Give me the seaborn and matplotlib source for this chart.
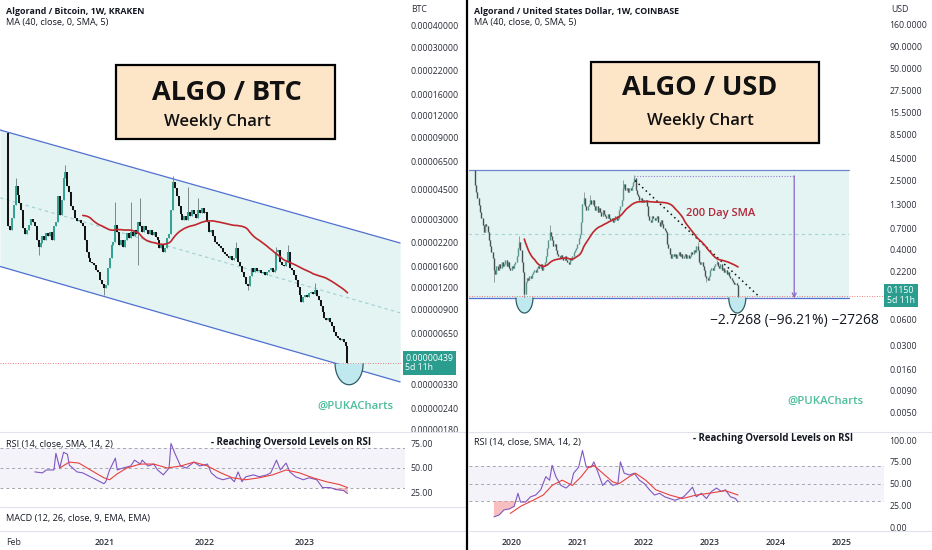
import numpy as np
import pandas as pd
import matplotlib
matplotlib.use('Agg')
import matplotlib.pyplot as plt
import matplotlib.dates as mdates
from matplotlib.ticker import FixedLocator, FixedFormatter, FormatStrFormatter, NullLocator
from matplotlib.patches import Rectangle, Polygon
from matplotlib.lines import Line2D
from matplotlib.transforms import IdentityTransform, blended_transform_factory
import seaborn as sns

# ---------------- data ----------------
# ALGO / BTC weekly closes, in 1e-6 BTC
btc_start = '2020-01-13'
btc_open0 = 95.0
btc_close = [
    27.5, 26.1, 30.6, 36.5, 47.0, 41.7, 37.5, 34.1, 26.8, 24.7,
    26.1, 27.9, 30.2, 29.0, 27.5, 22.8, 20.8, 21.9, 24.1, 22.8,
    25.1, 24.1, 25.4, 22.8, 27.5, 29.0, 41.1, 31.9, 39.0, 52.4,
    56.7, 47.0, 43.4, 36.0, 34.1, 30.6, 29.4, 29.8, 28.6, 27.5,
    22.8, 19.5, 18.0, 17.0, 16.8, 16.3, 15.3, 14.9, 13.4, 12.7,
    12.0, 12.5, 15.7, 18.0, 21.4, 22.2, 27.9, 25.4, 21.4, 22.8,
    20.8, 22.8, 25.1, 23.5, 25.4, 24.1, 26.1, 24.7, 29.0, 27.5,
    25.4, 27.5, 26.1, 24.7, 26.1, 24.4, 25.4, 23.8, 22.8, 20.5,
    21.7, 19.5, 20.5, 23.5, 24.7, 34.1, 49.6, 45.7, 41.1, 36.0,
    32.3, 29.8, 31.5, 29.8, 33.2, 31.5, 34.1, 32.3, 30.6, 34.1,
    32.8, 35.0, 32.8, 33.2, 29.0, 25.4, 26.1, 24.1, 22.2, 21.7,
    21.1, 20.5, 19.5, 19.0, 18.5, 18.0, 18.5, 17.5, 18.0, 20.5,
    17.0, 16.1, 14.9, 13.9, 12.7, 12.3, 14.1, 15.7, 14.9, 15.7,
    15.1, 15.3, 14.7, 14.9, 14.3, 14.9, 15.3, 15.7, 14.9, 15.3,
    19.5, 20.0, 17.0, 16.3, 16.1, 17.0, 19.5, 15.7, 15.3, 14.3,
    13.4, 12.2, 10.9, 9.94, 10.6, 10.9, 10.6, 11.2, 11.4, 11.1,
    11.7, 10.8, 10.2, 9.43, 8.70, 8.03, 7.82, 8.03, 7.61, 7.21,
    6.66, 6.31, 6.15, 5.98, 6.06, 5.82, 5.52, 4.39,
]
btc_hi = {4: 52.4, 30: 62.3, 56: 38.0, 64: 38.0, 69: 40.1, 86: 53.8, 94: 46.4,
          99: 40.1, 119: 22.2, 140: 20.8, 146: 21.4, 160: 12.9}
btc_lo = {16: 18.7, 50: 10.9, 68: 16.3, 125: 11.7, 177: 3.88}

btc_rsi_wk = [14, 18, 20, 24, 25, 27, 29, 31, 32, 36, 39, 43, 46, 50, 51, 53, 56, 57, 60, 64,
              66, 69, 70, 73, 76, 78, 81, 84, 85, 87, 90, 93, 97, 100, 104, 106, 109, 112, 116, 118,
              120, 122, 124, 128, 131, 135, 137, 140, 142, 145, 147, 150, 154, 157, 161, 164, 168, 171, 175, 177]
btc_rsi = [46, 45, 48, 48, 65, 50, 66, 64, 53, 46, 45, 41, 38, 34, 36, 48, 60, 48, 50, 52,
           58, 54, 58, 52, 54, 48, 43, 50, 75, 65, 52, 50, 56, 52, 54, 45, 40, 38, 40, 36,
           46, 36, 41, 43, 41, 43, 45, 58, 48, 55, 46, 41, 38, 40, 38, 30, 30, 28, 27, 24]
btc_rsisma_wk = [27, 32, 37, 43, 50, 53, 57, 62, 69, 76, 83, 90, 97, 104, 111, 117, 124, 131,
                 138, 145, 152, 159, 166, 173, 177]
btc_rsisma = [50, 56, 55, 48, 40, 38, 44, 50, 54, 54, 50, 52, 56, 52, 45, 40, 38, 40,
              43, 48, 45, 40, 36, 33, 30]

btc_chan_dates = ['2019-12-15', '2023-12-14']
btc_chan_top = [99.4, 21.9]
btc_chan_mid = [40.1, 8.6]
btc_chan_bot = [16.0, 3.41]
btc_cup = ('2023-06-11', 4.35)

btc_yticks = [4e-4, 3e-4, 2.2e-4, 1.6e-4, 1.2e-4, 9e-5, 6.5e-5, 4.5e-5, 3e-5, 2.2e-5,
              1.6e-5, 1.2e-5, 9e-6, 6.5e-6, 3.3e-6, 2.4e-6, 1.8e-6]
btc_xticks = ['2020-02-01', '2021-01-01', '2022-01-01', '2023-01-01']
btc_xlabels = ['Feb', '2021', '2022', '2023']

# ALGO / USD weekly closes
usd_start = '2019-06-10'
usd_open0 = 3.28
usd_close = [
    2.22, 1.84, 1.57, 1.30, 1.08, 0.917, 0.760, 0.630, 0.780, 0.740,
    0.630, 0.509, 0.433, 0.370, 0.315, 0.228, 0.205, 0.254, 0.228, 0.268,
    0.241, 0.283, 0.254, 0.268, 0.298, 0.254, 0.283, 0.241, 0.228, 0.254,
    0.241, 0.268, 0.283, 0.332, 0.410, 0.483, 0.390, 0.283, 0.216, 0.120,
    0.166, 0.184, 0.175, 0.195, 0.184, 0.205, 0.216, 0.228, 0.216, 0.241,
    0.254, 0.241, 0.268, 0.228, 0.254, 0.283, 0.332, 0.410, 0.509, 0.630,
    0.567, 0.509, 0.433, 0.457, 0.390, 0.350, 0.332, 0.315, 0.341, 0.315,
    0.298, 0.332, 0.298, 0.283, 0.268, 0.315, 0.298, 0.332, 0.370, 0.390,
    0.410, 0.457, 0.537, 0.597, 0.824, 1.33, 1.57, 1.27, 1.135, 1.27,
    1.33, 1.48, 1.33, 1.48, 1.27, 1.135, 1.27, 1.08, 1.20, 1.08,
    0.967, 1.135, 1.02, 0.967, 0.917, 1.02, 0.917, 0.869, 0.917, 0.824,
    0.869, 0.967, 0.869, 0.917, 1.135, 1.27, 1.48, 2.05, 2.28, 1.94,
    2.05, 1.84, 2.05, 1.94, 2.16, 2.41, 2.68, 1.94, 1.75, 1.66,
    1.48, 1.57, 1.40, 1.48, 1.40, 1.48, 1.27, 0.967, 0.869, 0.824,
    0.967, 0.917, 0.869, 0.917, 0.967, 0.824, 0.740, 0.869, 0.780, 0.702,
    0.665, 0.630, 0.457, 0.410, 0.350, 0.315, 0.350, 0.332, 0.350, 0.315,
    0.341, 0.370, 0.332, 0.350, 0.315, 0.332, 0.350, 0.315, 0.341, 0.315,
    0.332, 0.370, 0.350, 0.390, 0.370, 0.433, 0.390, 0.283, 0.268, 0.283,
    0.254, 0.228, 0.195, 0.184, 0.175, 0.195, 0.228, 0.241, 0.228, 0.254,
    0.268, 0.283, 0.254, 0.241, 0.268, 0.228, 0.241, 0.216, 0.228, 0.205,
    0.216, 0.195, 0.184, 0.175, 0.166, 0.157, 0.161, 0.153, 0.115,
]
usd_hi = {35: 0.56, 59: 0.76, 86: 1.84, 91: 1.70, 117: 2.54, 126: 2.90, 176: 0.48, 191: 0.30}
usd_lo = {15: 0.166, 39: 0.107, 183: 0.166, 208: 0.092}

usd_rsi_wk = [15, 19, 23, 27, 31, 34, 36, 40, 44, 48, 52, 56, 59, 61, 64, 68, 72, 76, 78, 82,
              85, 88, 92, 94, 97, 101, 105, 109, 113, 115, 118, 122, 126, 130, 134, 138, 142, 146, 150, 154,
              158, 162, 165, 169, 172, 175, 179, 183, 187, 191, 195, 198, 202, 206, 208]
usd_rsi = [12, 14, 20, 21, 24, 39, 29, 29, 35, 37, 43, 58, 54, 71, 58, 48, 45, 50, 62, 69,
           88, 69, 69, 75, 64, 48, 54, 48, 50, 75, 62, 60, 62, 54, 50, 43, 37, 39, 35, 33,
           31, 33, 35, 41, 46, 35, 39, 33, 41, 45, 41, 43, 35, 33, 29]
usd_rsisma_wk = [28, 36, 46, 54, 61, 69, 77, 84, 90, 94, 101, 109, 114, 122, 127, 135, 143,
                 154, 164, 175, 185, 198, 208]
usd_rsisma = [16, 24, 31, 37, 48, 54, 48, 58, 69, 71, 62, 52, 50, 58, 62, 54, 43,
              37, 33, 37, 39, 42, 37]

usd_range_dates = ['2019-05-01', '2025-02-09']
usd_range = [3.31, 0.598, 0.108]       # top, mid, support
usd_measure_dates = ['2021-11-07', '2024-04-11']
usd_measure = [2.834, 0.1072]
usd_trend_dates = ['2021-11-12', '2023-09-30']
usd_trend = [2.5, 0.112]
usd_cups = [('2020-03-10', 0.108), ('2023-06-01', 0.108)]
usd_sma_label = ('2023-03-03', 0.968)

usd_yticks = [160, 90, 50, 27.5, 15.5, 8.5, 4.5, 2.5, 1.3, 0.7, 0.4, 0.22,
              0.06, 0.03, 0.016, 0.009, 0.005]
usd_xticks = ['2020-01-01', '2021-01-01', '2022-01-01', '2023-01-01', '2024-01-01', '2025-01-01']
usd_xlabels = ['2020', '2021', '2022', '2023', '2024', '2025']

# ---------------- style ----------------
sns.set_theme(style='white')
plt.rcParams['font.family'] = ['Open Sans', 'DejaVu Sans']
plt.rcParams['axes.unicode_minus'] = True

TXT = '#131722'
TICK = '#2a2e39'
CYAN = '#e3f4f2'
BLUE = '#4f6fd1'
MA_RED = '#c0262d'
RSI_PURPLE = '#7e57c2'
RSI_RED = '#e8413c'
TEAL_BADGE = '#2a9d8f'
WM = '#4dbd9c'

W, H = 932, 550


def rect(x0, y0, x1, y1):
    return [x0 / W, 1 - y1 / H, (x1 - x0) / W, (y1 - y0) / H]


def d(s):
    return mdates.date2num(pd.Timestamp(s))


def ftext(x, y, s, **kw):
    fig.text(x / W, 1 - y / H, s, va='baseline', **kw)


def candles(ax, start, o0, closes, hi, lo, up, dn, bw, ww):
    c = np.array(closes, dtype=float)
    o = np.r_[o0, c[:-1]]
    x = mdates.date2num(pd.date_range(start, periods=len(c), freq='7D'))
    h = np.maximum(o, c)
    l = np.minimum(o, c)
    for i, v in hi.items():
        h[i] = max(h[i], v)
    for i, v in lo.items():
        l[i] = min(l[i], v)
    ax.vlines(x, l, h, color='#7f8888', lw=ww, zorder=3)
    cols = np.where(c >= o, up, dn)
    ax.vlines(x, np.minimum(o, c), np.maximum(o, c), colors=cols, lw=bw, zorder=4)
    return x, c


def cup(ax, xd, price, w, depth, fc, ec):
    cx, cy = ax.transData.transform((xd, price))
    t = np.linspace(np.pi, 2 * np.pi, 60)
    xs = cx + w * np.cos(t)
    ys = cy + depth * np.sin(t)
    ax.add_patch(Polygon(np.c_[xs, ys], closed=True, transform=IdentityTransform(),
                         fc=fc, ec='none', zorder=5))
    ax.add_line(Line2D(xs, ys, transform=IdentityTransform(), color=ec, lw=0.9, zorder=6))


def badge(ax, price, s, dx):
    tr = blended_transform_factory(ax.transAxes, ax.transData)
    ax.text(1 + dx, price, s, transform=tr, ha='left', va='center', fontsize=6.3,
            color='white', linespacing=1.05, clip_on=False, zorder=10,
            bbox=dict(boxstyle='square,pad=0.3', fc=TEAL_BADGE, ec='none'))


def rsi_pane(ax, start, wk, vals, swk, svals, ticks):
    base = pd.Timestamp(start)
    xr = mdates.date2num([base + pd.Timedelta(weeks=w) for w in wk])
    xs = mdates.date2num([base + pd.Timedelta(weeks=w) for w in swk])
    ax.axhspan(30, 70, color=RSI_PURPLE, alpha=0.07, lw=0, zorder=0)
    for lv in (70, 50, 30):
        ax.axhline(lv, color='#a3a6af', lw=0.7, dashes=(3, 3), zorder=1)
    v = np.array(vals, dtype=float)
    ax.fill_between(xr, v, 30, where=v < 30, interpolate=True, color='#f28b8b',
                    alpha=0.55, lw=0, zorder=1)
    sns.lineplot(x=xr, y=v, ax=ax, color=RSI_PURPLE, lw=0.8, zorder=3)
    sns.lineplot(x=xs, y=svals, ax=ax, color=RSI_RED, lw=0.8, zorder=4)
    ax.yaxis.tick_right()
    ax.yaxis.set_major_locator(FixedLocator(ticks))
    ax.yaxis.set_major_formatter(FormatStrFormatter('%.2f'))


fig = plt.figure(figsize=(W / 100, H / 100), dpi=100)
fig.patch.set_facecolor('white')

axL = fig.add_axes(rect(0, 0, 405, 432))
axLr = fig.add_axes(rect(0, 432, 405, 507))
axLm = fig.add_axes(rect(0, 507, 405, 531))
axR = fig.add_axes(rect(469, 0, 884, 432))
axRr = fig.add_axes(rect(469, 432, 884, 531))

for ax in (axL, axLr, axLm, axR, axRr):
    ax.set_facecolor('none')
    for s in ax.spines.values():
        s.set_visible(False)
    ax.tick_params(length=0, labelsize=6.3, colors=TICK, pad=4)
    ax.set_xlabel('')
    ax.set_ylabel('')

# ---------------- left: ALGO / BTC ----------------
btc_xlim = (d('2019-12-15'), d('2024-01-01'))
for ax in (axL, axLr, axLm):
    ax.set_xlim(*btc_xlim)
axL.set_yscale('log')
axL.set_ylim(1.744e-6, 5.665e-4)

cd = [d(s) for s in btc_chan_dates]
top = np.array(btc_chan_top) * 1e-6
mid = np.array(btc_chan_mid) * 1e-6
bot = np.array(btc_chan_bot) * 1e-6
axL.fill_between(cd, bot, top, color=CYAN, lw=0, zorder=0)
axL.plot(cd, top, color=BLUE, lw=0.9, zorder=2)
axL.plot(cd, bot, color=BLUE, lw=0.9, zorder=2)
axL.plot(cd, mid, color='#9fcfd3', lw=0.8, dashes=(3, 3), zorder=1)

bx, bc = candles(axL, btc_start, btc_open0 * 1e-6, np.array(btc_close) * 1e-6,
                 {k: v * 1e-6 for k, v in btc_hi.items()},
                 {k: v * 1e-6 for k, v in btc_lo.items()},
                 '#35a293', '#151515', 1.45, 0.7)
bma = pd.Series(bc).rolling(40).mean()
ok = bma.notna().values
sns.lineplot(x=bx[ok], y=bma.values[ok], ax=axL, color=MA_RED, lw=1.2, zorder=6)
axL.axhline(bc[-1], color='#ef5350', lw=0.6, ls=(0, (1, 2)), zorder=1)

axL.yaxis.tick_right()
axL.yaxis.set_major_locator(FixedLocator(btc_yticks))
axL.yaxis.set_major_formatter(FormatStrFormatter('%.8f'))
axL.yaxis.set_minor_locator(NullLocator())
axL.set_xticks([])
cup(axL, d(btc_cup[0]), btc_cup[1] * 1e-6, 14, 21, '#bfe8ef', '#2e5e63')
badge(axL, bc[-1], '0.00000439\n5d 11h', 0.001)

rsi_pane(axLr, btc_start, btc_rsi_wk, btc_rsi, btc_rsisma_wk, btc_rsisma, [75, 50, 25])
axLr.set_ylim(10.2, 86.7)
axLr.set_xticks([])
axLm.set_yticks([])
axLm.set_ylim(0, 1)
axLm.xaxis.set_major_locator(FixedLocator([d(s) for s in btc_xticks]))
axLm.xaxis.set_major_formatter(FixedFormatter(btc_xlabels))
axLm.tick_params(axis='x', pad=5)
for lbl in axLm.get_xticklabels():
    if lbl.get_text() != 'Feb':
        lbl.set_fontweight('semibold')

# ---------------- right: ALGO / USD ----------------
usd_xlim = (d('2019-05-08'), d('2025-08-21'))
for ax in (axR, axRr):
    ax.set_xlim(*usd_xlim)
axR.set_yscale('log')
axR.set_ylim(0.0030, 312.2)

rd = [d(s) for s in usd_range_dates]
axR.fill_between(rd, [usd_range[2]] * 2, [usd_range[0]] * 2, color=CYAN, lw=0, zorder=0)
axR.plot(rd, [usd_range[0]] * 2, color='#6f87cf', lw=0.9, zorder=2)
axR.plot(rd, [usd_range[2]] * 2, color=BLUE, lw=0.9, zorder=2)
axR.plot(rd, [usd_range[1]] * 2, color='#a9d3d0', lw=0.8, dashes=(3, 3), zorder=1)

ux, uc = candles(axR, usd_start, usd_open0, usd_close, usd_hi, usd_lo,
                 '#5a968e', '#46514f', 1.0, 0.55)
uma = pd.Series(uc).rolling(40).mean()
ok = uma.notna().values
sns.lineplot(x=ux[ok], y=uma.values[ok], ax=axR, color=MA_RED, lw=1.2, zorder=6)
axR.axhline(uc[-1], color='#ef5350', lw=0.6, ls=(0, (1, 2)), zorder=1)

md = [d(s) for s in usd_measure_dates]
axR.plot(md, [usd_measure[0]] * 2, color='#9c7fd6', lw=0.8, ls=(0, (1, 1.5)), zorder=5)
axR.plot(md, [usd_measure[1]] * 2, color='#9c7fd6', lw=0.8, ls=(0, (1, 1.5)), zorder=5)
axR.annotate('', xy=(md[1], usd_measure[1]), xytext=(md[1], usd_measure[0]),
             arrowprops=dict(arrowstyle='->', color='#8e63ce', lw=0.9,
                             shrinkA=0, shrinkB=0, mutation_scale=7), zorder=5)
axR.text(md[1], 0.0538, '\u22122.7268 (\u221296.21%) \u221227268', ha='center',
         va='baseline', fontsize=10, color=TXT, zorder=8)
td = [d(s) for s in usd_trend_dates]
axR.plot(td, usd_trend, color='#111111', lw=1.1, ls=(0, (1, 2.2)), zorder=5)
axR.text(d(usd_sma_label[0]), usd_sma_label[1], '200 Day SMA', ha='center',
         va='baseline', fontsize=8, color='#b3263a', fontweight='semibold', zorder=8)

axR.yaxis.tick_right()
axR.yaxis.set_major_locator(FixedLocator(usd_yticks))
axR.yaxis.set_major_formatter(FormatStrFormatter('%.4f'))
axR.yaxis.set_minor_locator(NullLocator())
axR.set_xticks([])
for cdate, cp in usd_cups:
    cup(axR, d(cdate), cp, 8.5, 15, '#bfe8ef', '#2e5e63')
badge(axR, uc[-1], '0.1150\n5d 11h', 0.007)

rsi_pane(axRr, usd_start, usd_rsi_wk, usd_rsi, usd_rsisma_wk, usd_rsisma, [100, 75, 50, 25, 0])
axRr.set_ylim(-4.2, 109.2)
axRr.xaxis.set_major_locator(FixedLocator([d(s) for s in usd_xticks]))
axRr.xaxis.set_major_formatter(FixedFormatter(usd_xlabels))
axRr.tick_params(axis='x', pad=5)
for lbl in axRr.get_xticklabels():
    lbl.set_fontweight('semibold')

# ---------------- frame lines, headers, boxes ----------------
sep = '#e0e3eb'
for y in (432, 507, 531):
    fig.add_artist(Line2D([0, 466 / W], [1 - y / H] * 2, color=sep, lw=0.8))
for y in (432, 531):
    fig.add_artist(Line2D([469 / W, 1], [1 - y / H] * 2, color=sep, lw=0.8))
fig.add_artist(Line2D([467.3 / W] * 2, [0, 1], color='black', lw=1.6))

ftext(6, 14.5, 'Algorand / Bitcoin, 1W, KRAKEN', fontsize=6.4, fontweight='bold', color=TXT)
ftext(6, 25.5, 'MA (40, close, 0, SMA, 5)', fontsize=6.6, color=TXT)
ftext(411, 12, 'BTC', fontsize=6.3, color=TICK)
ftext(474, 14.5, 'Algorand / United States Dollar, 1W, COINBASE', fontsize=6.4,
      fontweight='bold', color=TXT)
ftext(474, 25.5, 'MA (40, close, 0, SMA, 5)', fontsize=6.6, color=TXT)
ftext(891, 12, 'USD', fontsize=6.3, color=TICK)

ftext(6, 446.5, 'RSI (14, close, SMA, 14, 2)', fontsize=6.6, color=TXT)
ftext(474, 445.5, 'RSI (14, close, SMA, 14, 2)', fontsize=6.6, color=TXT)
ftext(211, 445, '- Reaching Oversold Levels on RSI', fontsize=7.0, fontweight='bold', color=TXT)
ftext(693, 441.5, '- Reaching Oversold Levels on RSI', fontsize=7.0, fontweight='bold', color=TXT)
ftext(6, 521.5, 'MACD (12, 26, close, 9, EMA, EMA)', fontsize=6.6, color=TXT)

ftext(393, 409, '@PUKACharts', fontsize=8.2, fontweight='semibold', color=WM, ha='right')
ftext(864, 404, '@PUKACharts', fontsize=8.2, fontweight='semibold', color=WM, ha='right')

for (x0, y0, x1, y1), title, tx, ty, sx, sy in [
        ((116, 65, 335, 139), 'ALGO / BTC', 227, 100, 217, 125.5),
        ((591, 62, 819, 143), 'ALGO / USD', 700, 95, 700, 125)]:
    fig.add_artist(Rectangle((x0 / W, 1 - y1 / H), (x1 - x0) / W, (y1 - y0) / H,
                             transform=fig.transFigure, fc='#fde6c8', ec='black', lw=1.6))
    ftext(tx, ty, title, fontsize=19.5, fontweight='bold', color='#111111', ha='center')
    ftext(sx, sy, 'Weekly Chart', fontsize=12, fontweight='semibold', color='#111111', ha='center')

fig.savefig('out.png', dpi=100, facecolor='white')
